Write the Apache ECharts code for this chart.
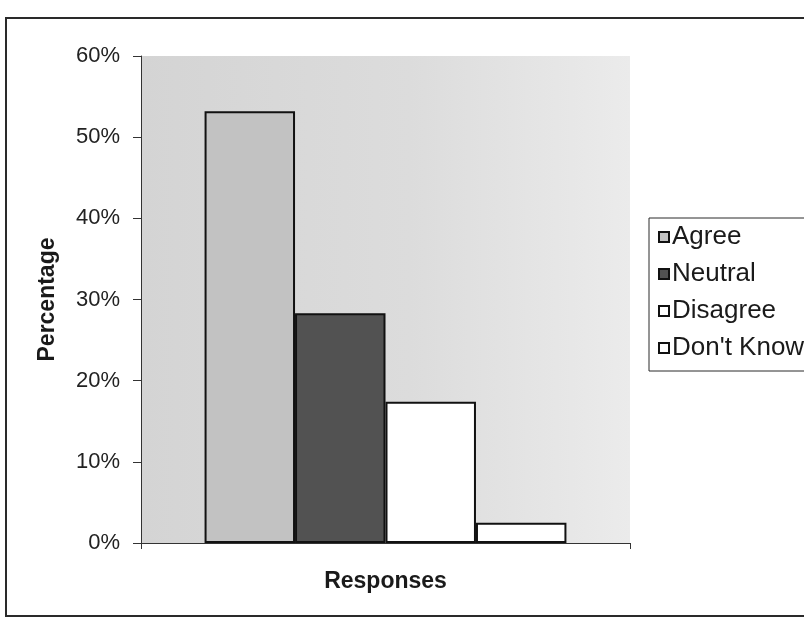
<!DOCTYPE html>
<html>
<head>
<meta charset="utf-8">
<script src="https://cdn.jsdelivr.net/npm/echarts@6/dist/echarts.min.js"></script>
<style>
  html, body { margin: 0; padding: 0; background: #ffffff; }
  #chart { width: 804px; height: 623px; }
</style>
</head>
<body>
<div id="chart"></div>
<script>
// Survey responses, one bar per answer
const categories = ['Responses'];
const seriesNames = ['Agree', 'Neutral', 'Disagree', "Don't Know"];
const agreeValues = [53.2];
const neutralValues = [28.3];
const disagreeValues = [17.4];
const dontKnowValues = [2.5];
const yTicks = [0, 10, 20, 30, 40, 50, 60];

const seriesValues = [agreeValues, neutralValues, disagreeValues, dontKnowValues];
const fills = ['#c2c2c2', '#525252', '#ffffff', '#ffffff'];

const chart = echarts.init(document.getElementById('chart'), null, { renderer: 'canvas' });

const fontFamily = '"Liberation Sans", Arial, sans-serif';

chart.setOption({
  animation: false,
  backgroundColor: '#ffffff',
  textStyle: { fontFamily: fontFamily },
  graphic: [{
    type: 'rect',
    shape: { x: 6, y: 18, width: 830, height: 598 },
    style: { fill: 'none', stroke: '#2a2a2a', lineWidth: 2 },
    silent: true
  }],
  grid: {
    left: 141, right: 174, top: 56, bottom: 80,
    show: true,
    borderWidth: 0,
    backgroundColor: {
      type: 'linear', x: 0, y: 0, x2: 1, y2: 0,
      colorStops: [
        { offset: 0, color: '#d4d4d4' },
        { offset: 0.55, color: '#dcdcdc' },
        { offset: 1, color: '#ebebeb' }
      ]
    }
  },
  legend: {
    orient: 'vertical',
    left: 649, top: 218,
    data: seriesNames,
    icon: 'rect',
    itemWidth: 10, itemHeight: 10,
    itemGap: 11,
    padding: [6, 60, 10, 9],
    backgroundColor: '#ffffff',
    borderColor: '#2a2a2a',
    borderWidth: 1,
    borderRadius: 0,
    textStyle: { fontSize: 26, color: '#1a1a1a', fontFamily: fontFamily, padding: [0, 0, 0, -2] }
  },
  xAxis: {
    type: 'category',
    data: categories,
    name: 'Responses',
    nameLocation: 'middle',
    nameGap: 27,
    nameTextStyle: { fontSize: 23, fontWeight: 'bold', color: '#1a1a1a' },
    axisLine: { show: true, lineStyle: { color: '#333333', width: 1 } },
    axisTick: { show: true, length: 6, lineStyle: { color: '#333333' } },
    axisLabel: { show: false },
    splitLine: { show: false }
  },
  yAxis: {
    type: 'value',
    min: yTicks[0],
    max: yTicks[yTicks.length - 1],
    interval: yTicks[1] - yTicks[0],
    name: 'Percentage',
    nameLocation: 'middle',
    nameGap: 82,
    nameRotate: 90,
    nameTextStyle: { fontSize: 23, fontWeight: 'bold', color: '#1a1a1a' },
    axisLine: { show: true, lineStyle: { color: '#333333', width: 1 } },
    axisTick: { show: true, length: 8, lineStyle: { color: '#333333' } },
    axisLabel: {
      fontSize: 22, color: '#222222', margin: 21,
      formatter: v => v + '%'
    },
    splitLine: { show: false }
  },
  series: seriesNames.map((name, i) => ({
    name: name,
    type: 'bar',
    data: seriesValues[i],
    barGap: '0%',
    barCategoryGap: '26%',
    itemStyle: { color: fills[i], borderColor: '#111111', borderWidth: 2 }
  }))
});
</script>
</body>
</html>
